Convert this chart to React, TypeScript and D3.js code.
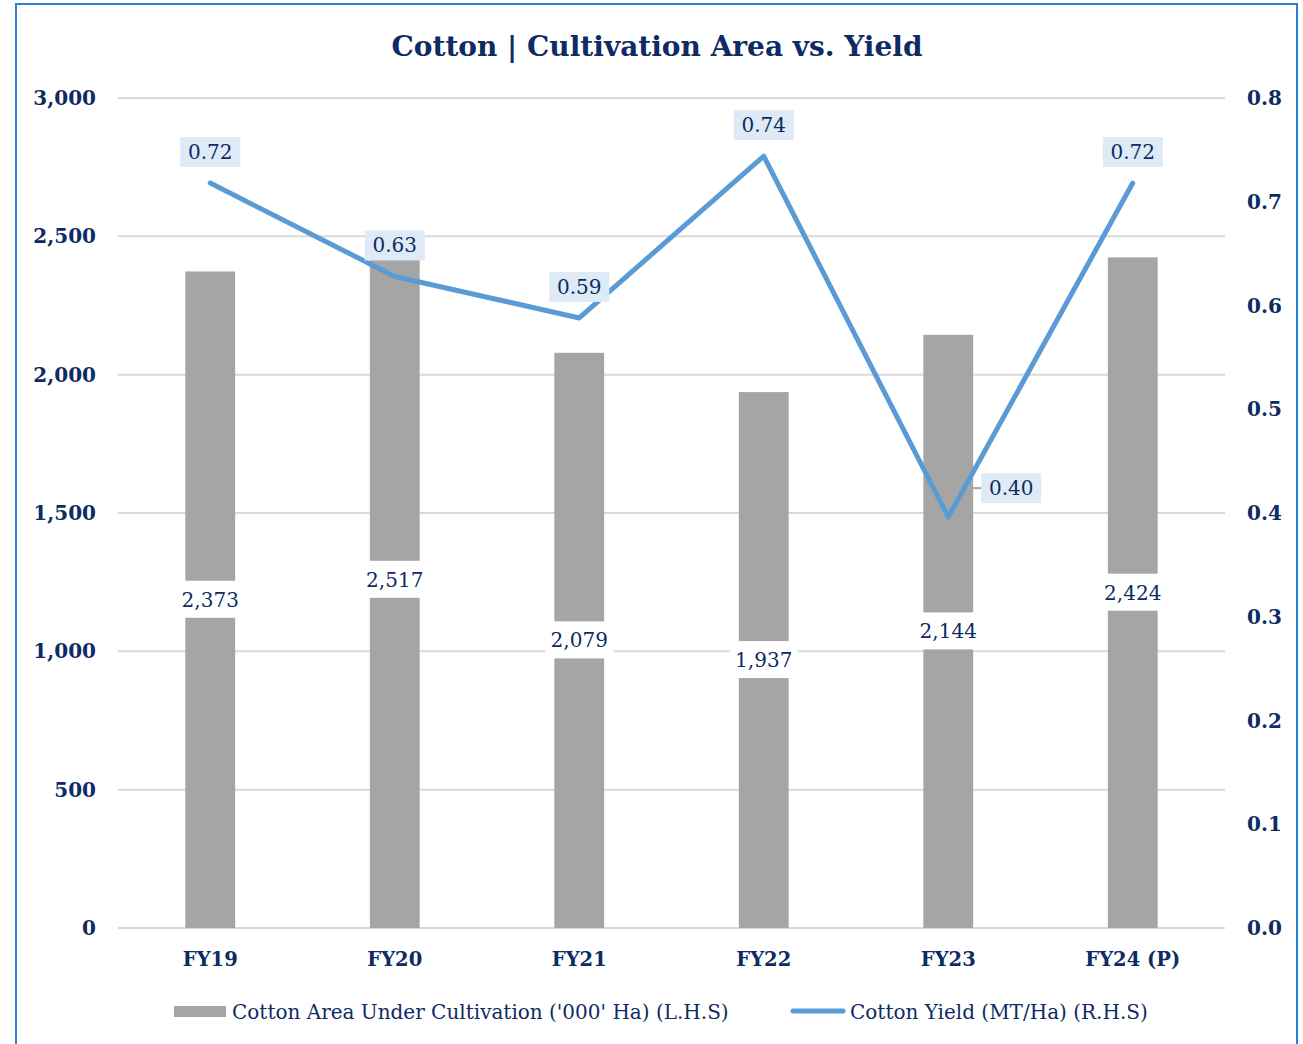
import React from "react";
import * as d3 from "d3";

const categories = ["FY19", "FY20", "FY21", "FY22", "FY23", "FY24 (P)"];
const areaValues = [2373, 2517, 2079, 1937, 2144, 2424];
const yieldValues = [0.718, 0.628, 0.588, 0.744, 0.396, 0.718];
const leftTicks = [0, 500, 1000, 1500, 2000, 2500, 3000];
const rightTicks = [0, 0.1, 0.2, 0.3, 0.4, 0.5, 0.6, 0.7, 0.8];
const title = "Cotton | Cultivation Area vs. Yield";
const legendBar = "Cotton Area Under Cultivation ('000' Ha) (L.H.S)";
const legendLine = "Cotton Yield (MT/Ha) (R.H.S)";

const W = 1303;
const H = 1044;
const FONT = "'DejaVu Serif', serif";
const NAVY = "#0e2b63";

export default function App() {
  const left = 118, right = 1225, top = 98, bottom = 928;
  const x = d3.scaleBand<string>().domain(categories).range([left, right]).paddingInner(0.73).paddingOuter(0.365);
  const yL = d3.scaleLinear().domain([0, 3000]).range([bottom, top]);
  const yR = d3.scaleLinear().domain([0, 0.8]).range([bottom, top]);
  const cx = (c: string) => (x(c) as number) + x.bandwidth() / 2;
  const line = d3.line<number>().x((_, i) => cx(categories[i])).y((d) => yR(d));
  const fmt = d3.format(",");

  return (
    <svg width={W} height={H} style={{ position: "absolute", left: 0, top: 0, background: "#fff" }} fontFamily={FONT}>
      <rect x={16} y={4} width={1281} height={1080} fill="#fff" stroke="#2a80d2" strokeWidth={2} />
      <text x={657} y={56} textAnchor="middle" fontSize={28} fontWeight="bold" fill={NAVY}>{title}</text>
      {leftTicks.map((t) => (
        <g key={"g" + t}>
          <line x1={left} x2={right} y1={yL(t)} y2={yL(t)} stroke="#d9d9d9" strokeWidth={2} />
          <text x={96} y={yL(t) + 7} textAnchor="end" fontSize={20} fontWeight="bold" fill={NAVY}>{fmt(t)}</text>
        </g>
      ))}
      {rightTicks.map((t) => (
        <text key={"r" + t} x={1247} y={yR(t) + 7} fontSize={20} fontWeight="bold" fill={NAVY}>{t.toFixed(1)}</text>
      ))}
      {categories.map((c, i) => (
        <rect key={"b" + c} x={x(c)} y={yL(areaValues[i])} width={x.bandwidth()} height={bottom - yL(areaValues[i])} fill="#a5a5a5" />
      ))}
      {categories.map((c, i) => {
        const my = (yL(areaValues[i]) + bottom) / 2;
        return (
          <g key={"bl" + c}>
            <rect x={cx(c) - 34} y={my - 19} width={68} height={37} fill="#fff" />
            <text x={cx(c)} y={my + 7} textAnchor="middle" fontSize={20} fill={NAVY}>{fmt(areaValues[i])}</text>
          </g>
        );
      })}
      <path d={line(yieldValues) as string} fill="none" stroke="#5b9bd5" strokeWidth={5} strokeLinejoin="round" strokeLinecap="round" />
      {categories.map((c, i) => {
        const px = cx(c), py = yR(yieldValues[i]);
        const side = i === 4;
        const lx = side ? px + 63 : px;
        const ly = side ? py - 29 : py - 31;
        return (
          <g key={"ll" + c}>
            {side && <line x1={px + 22} x2={lx - 30} y1={ly} y2={ly} stroke="#a5a5a5" strokeWidth={2} />}
            <rect x={lx - 30} y={ly - 15} width={60} height={30} fill="#deeaf6" />
            <text x={lx} y={ly + 7} textAnchor="middle" fontSize={20} fill={NAVY}>{yieldValues[i].toFixed(2)}</text>
          </g>
        );
      })}
      {categories.map((c) => (
        <text key={"x" + c} x={cx(c)} y={966} textAnchor="middle" fontSize={19.5} fontWeight="bold" fill={NAVY}>{c}</text>
      ))}
      <rect x={174} y={1006} width={52} height={11} fill="#a5a5a5" />
      <text x={232} y={1019} fontSize={20} fill={NAVY}>{legendBar}</text>
      <line x1={793} x2={843} y1={1011} y2={1011} stroke="#5b9bd5" strokeWidth={5} strokeLinecap="round" />
      <text x={850} y={1019} fontSize={20} fill={NAVY}>{legendLine}</text>
    </svg>
  );
}
